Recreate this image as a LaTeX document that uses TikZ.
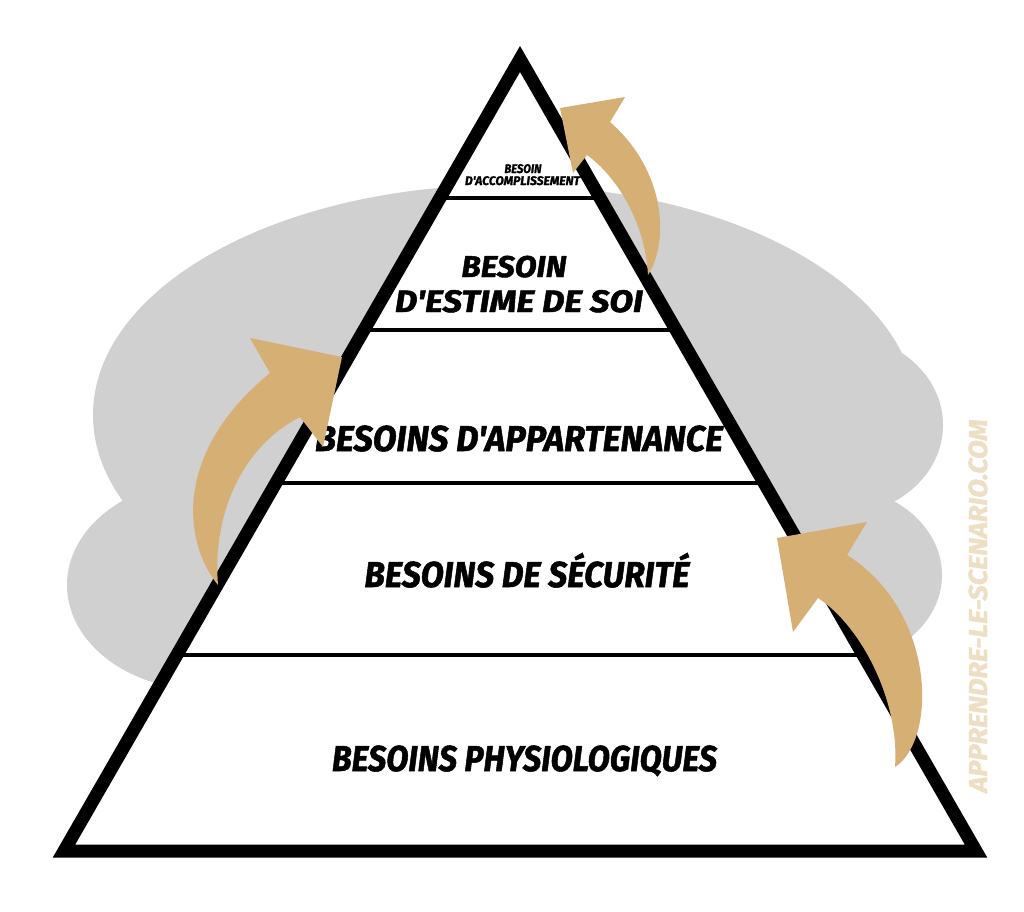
\documentclass[tikz,border=0pt]{standalone}
\usepackage{fontspec}
\usetikzlibrary{calc}
\newfontfamily\lblfont{Fira Sans}[BoldItalicFeatures={FakeBold=1.5}]
\definecolor{cloudgray}{RGB}{208,208,208}
\definecolor{arrowtan}{RGB}{213,175,115}
\definecolor{wmtan}{RGB}{238,222,196}
\newcommand{\lbl}[3]{\resizebox{#1pt}{\height}{\fontsize{#2}{#2}\selectfont\lblfont\bfseries\itshape #3}}
\begin{document}
\begin{tikzpicture}[x=1pt,y=-1pt,
  cloud/.style={fill=cloudgray, draw=none},
  levellabel/.style={inner sep=0pt, anchor=base, text=black},
  divider/.style={line width=4pt, draw=black},
  outline/.style={line width=13pt, line join=miter, draw=black},
  bigarrow/.style={fill=arrowtan, draw=none},
  watermark/.style={inner sep=0pt, anchor=base, rotate=90, text=wmtan}]
\fill[white] (0,0) rectangle (1024,911);
\useasboundingbox (0,0) rectangle (1024,911);

% grey cloud
\fill[cloud] (505,415) ellipse [x radius=412, y radius=230];
\fill[cloud] (840,425) ellipse [x radius=103, y radius=90];
\fill[cloud] (830,575) ellipse [x radius=112, y radius=90];
\fill[cloud] (205,585) ellipse [x radius=138, y radius=105];

% pyramid
\coordinate (apex) at (520,59);
\coordinate (bl) at (64,851);
\coordinate (br) at (976,851);
\fill[white] (apex) -- (bl) -- (br) -- cycle;

\foreach \t [count=\i] in {0.1755,0.3422,0.5354,0.7525} {
  \coordinate (dL\i) at ($(apex)!\t!(bl)$);
  \coordinate (dR\i) at ($(apex)!\t!(br)$);
  \draw[divider] (dL\i) -- (dR\i);
}

% labels
\node[levellabel] (accA) at (523,173) {\lbl{37}{12.5}{BESOIN}};
\node[levellabel] (accB) at (522.5,185) {\lbl{115}{12.5}{D'ACCOMPLISSEMENT}};
\node[levellabel] (estA) at (514,277) {\lbl{105}{30}{BESOIN}};
\node[levellabel] (estB) at (519,312) {\lbl{248}{31}{D'ESTIME DE SOI}};
\node[levellabel] (app) at (519,451) {\lbl{408}{36}{BESOINS D'APPARTENANCE}};
\node[levellabel] (sec) at (527,587) {\lbl{325}{36}{BESOINS DE SÉCURITÉ}};
\node[levellabel] (phy) at (524.5,771) {\lbl{385}{36}{BESOINS PHYSIOLOGIQUES}};

\draw[outline] (apex) -- (bl) -- (br) -- cycle;

% arrows
\fill[bigarrow] (218,585) .. controls (185,545) and (170,455) .. (270,373)
  -- (250,338) -- (342,357) -- (323,447) -- (300,417)
  .. controls (245,445) and (212,510) .. (218,585) -- cycle;
\fill[bigarrow] (648,275) .. controls (670,240) and (665,170) .. (610,122)
  -- (625,97) -- (560,108) -- (573,173) -- (587,155)
  .. controls (615,175) and (645,220) .. (648,275) -- cycle;
\fill[bigarrow] (895,767) .. controls (937,740) and (937,612) .. (847,555)
  -- (867,522) -- (777,538) -- (793,632) -- (818,598)
  .. controls (860,625) and (900,700) .. (895,767) -- cycle;

% watermark
\node[watermark] (wm) at (987,606) {\lbl{373}{26}{APPRENDRE-LE-SCENARIO.COM}};
\end{tikzpicture}
\end{document}
